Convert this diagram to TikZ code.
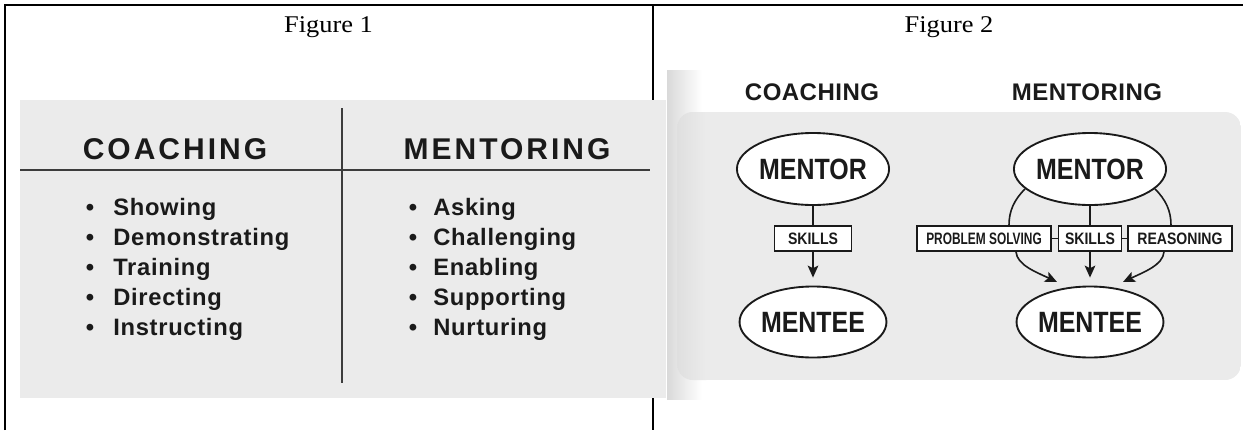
\documentclass[tikz,border=0pt]{standalone}
\usepackage{fontspec}
\usetikzlibrary{shapes.geometric,arrows.meta,calc}

% fonts
\newfontfamily\hdfont[LetterSpace=10]{Liberation Sans}
\newfontfamily\itemfont[LetterSpace=3]{Liberation Sans}
\newfontfamily\plainsans{Liberation Sans}
\newfontfamily\hdtwofont[LetterSpace=2]{Liberation Sans}
\newfontfamily\ndfont[FakeStretch=0.85]{Liberation Sans}
\newfontfamily\psfont[FakeStretch=0.72]{Liberation Sans}
\newfontfamily\capfont[FakeStretch=1.1]{Liberation Serif}

% colours
\definecolor{ink}{HTML}{1A1A1A}
\definecolor{panel}{HTML}{EBEBEB}
\definecolor{rulegray}{HTML}{3C3C3C}
\definecolor{edgeshade}{HTML}{D9D9D9}
\definecolor{panelshade}{HTML}{DFDFDF}

\begin{document}
\begin{tikzpicture}[x=0.75pt,y=0.75pt,
  frame/.style={line width=1.5pt,draw=black},
  figcap/.style={anchor=base,inner sep=0pt,font=\capfont\fontsize{18}{20}\selectfont},
  hdone/.style={anchor=base,inner sep=0pt,text=ink,font=\hdfont\bfseries\fontsize{22.5}{24}\selectfont},
  itm/.style={anchor=base west,inner sep=0pt,text=ink,font=\itemfont\bfseries\fontsize{17.8}{20}\selectfont},
  dot/.style={anchor=base,inner sep=0pt,text=ink,font=\plainsans\bfseries\fontsize{17.8}{20}\selectfont},
  hdtwo/.style={anchor=base,inner sep=0pt,text=ink,font=\hdtwofont\bfseries\fontsize{18}{20}\selectfont},
  ell/.style={ellipse,draw=ink,line width=1.4pt,fill=white,inner sep=0pt,
    minimum width=104.25pt,minimum height=54pt,
    font=\ndfont\bfseries\fontsize{22}{24}\selectfont,text=ink},
  lbl/.style={rectangle,draw=ink,line width=1.2pt,fill=white,inner sep=0pt,
    minimum height=18.75pt,font=\ndfont\bfseries\fontsize{12.4}{14}\selectfont,text=ink},
  link/.style={line width=1.2pt,draw=ink},
  arr/.style={line width=1.2pt,draw=ink,-{Stealth[length=9pt,width=8pt,inset=2pt]}}
]
\clip (0,0) rectangle (1243,430);

% table frame
\draw[frame] (5,0) -- (5,425) -- (1243,425);
\draw[frame] (652.5,425) -- (652.5,0);

% cell captions
\node[figcap] (capone) at (328.5,398) {Figure 1};
\node[figcap] (captwo) at (949,398) {Figure 2};

% ---------- Figure 1: comparison table ----------
\fill[panel] (20,32) rectangle (666,330);
\draw[rulegray,line width=1.4pt] (20,260) -- (650,260);
\draw[rulegray,line width=1.4pt] (342,322) -- (342,47);

\node[hdone] (hcoach) at (175,271) {COACHING};
\node[hdone] (hmentor) at (507,271) {MENTORING};

\foreach \t [count=\i] in {Showing,Demonstrating,Training,Directing,Instructing}{
  \node[dot] (cb\i) at (90,{245-30*\i}) {•};
  \node[itm] (ci\i) at (113,{245-30*\i}) {\t};
}
\foreach \t [count=\i] in {Asking,Challenging,Enabling,Supporting,Nurturing}{
  \node[dot] (mb\i) at (413,{245-30*\i}) {•};
  \node[itm] (mi\i) at (433,{245-30*\i}) {\t};
}

% ---------- Figure 2: flow of skills ----------
\fill[white] (667,31) rectangle (1243,360);
\shade[left color=edgeshade,right color=white] (667,31) rectangle (702,360);

\begin{scope}
  \clip[rounded corners=12pt] (677,50) rectangle (1241,318);
  \fill[panel] (677,50) rectangle (1241,318);
  \shade[left color=panelshade,right color=panel] (677,50) rectangle (706,318);
\end{scope}

\node[hdtwo] (hcoach2) at (812,330) {COACHING};
\node[hdtwo] (hmentor2) at (1087,330) {MENTORING};

% coaching: one channel
\node[ell] (mL) at (813,261) {MENTOR};
\node[ell,minimum height=53.25pt] (eL) at (813,108) {MENTEE};
\node[lbl,minimum width=57.75pt] (sL) at (813,191.5) {SKILLS};
\draw[link] (mL.south) -- (sL.north);
\draw[arr,shorten >=6pt] (sL.south) -- (eL.north);

% mentoring: three channels
\node[ell] (mR) at (1090,261) {MENTOR};
\node[ell,minimum height=53.25pt] (eR) at (1090,108) {MENTEE};
\node[lbl,minimum width=47.25pt] (sR) at (1090,191.5) {SKILLS};
\node[lbl,minimum width=100.5pt,font=\psfont\bfseries\fontsize{12.4}{14}\selectfont] (ps) at (984,191.5) {PROBLEM SOLVING};
\node[lbl,minimum width=78pt] (rs) at (1180,191.5) {REASONING};

\draw[link] (ps.east) -- (sR.west);
\draw[link] (sR.east) -- (rs.west);
\draw[link] (mR.south) -- (sR.north);
\draw[arr,shorten >=6pt] (sR.south) -- (eR.north);

\draw[link] (mR.197) .. controls (1014,230) and (1009,219) .. ($(ps.north)+(25,0)$);
\draw[arr] ($(ps.south)+(32,0)$) .. controls (1017,165) and (1036,158) .. (1057,148);
\draw[link] (mR.343) .. controls (1166,230) and (1171,219) .. ($(rs.north)+(-9,0)$);
\draw[arr] ($(rs.south)+(-16,0)$) .. controls (1163,165) and (1144,158) .. (1123,148);
\end{tikzpicture}
\end{document}
